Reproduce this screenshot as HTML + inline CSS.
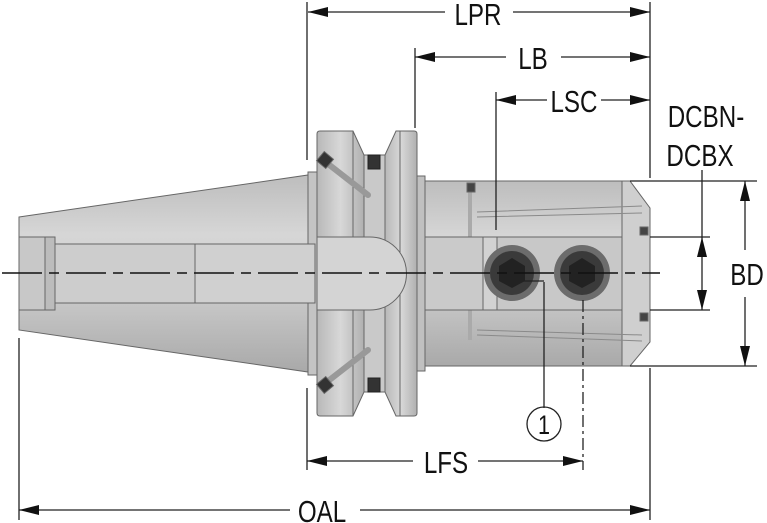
<!DOCTYPE html>
<html><head><meta charset="utf-8"><style>
html,body{margin:0;padding:0;background:#fff}
svg{display:block}
text{font-family:"Liberation Sans",sans-serif;fill:#111}
</style></head><body>
<svg width="767" height="523" viewBox="0 0 767 523" xmlns="http://www.w3.org/2000/svg">
<defs>
<linearGradient id="g" x1="0" y1="0" x2="0" y2="1">
<stop offset="0" stop-color="#bdbdbd"/><stop offset="0.3" stop-color="#d6d6d6"/><stop offset="0.55" stop-color="#cfcfcf"/><stop offset="1" stop-color="#a9a9a9"/>
</linearGradient>
<linearGradient id="gh" x1="0" y1="0" x2="1" y2="0">
<stop offset="0" stop-color="#b8b8b8"/><stop offset="0.5" stop-color="#d8d8d8"/><stop offset="1" stop-color="#b0b0b0"/>
</linearGradient>
<marker id="a" viewBox="0 0 20 10" refX="20" refY="5" markerWidth="20" markerHeight="10" markerUnits="userSpaceOnUse" orient="auto-start-reverse"><path d="M0,0L20,5L0,10Z" fill="#111"/></marker>
</defs>
<g stroke="#666" stroke-width="1">
<!-- taper -->
<path d="M19,217 L308,175 L308,372 L19,330 Z" fill="url(#g)"/>
<rect x="308" y="172" width="10" height="203" fill="#c4c4c4"/>
<rect x="19" y="237" width="30" height="73" fill="#c8c8c8"/>
<rect x="45" y="237" width="10" height="73" fill="#bcbcbc"/>
<rect x="55" y="244" width="140" height="59" fill="#cdcdcd"/>
<rect x="195" y="244" width="120" height="59" fill="#d0d0d0"/>
<!-- flanges -->
<path d="M320,131 L353,131 L364,155 L364,392 L353,416 L320,416 Q317,416 317,413 L317,134 Q317,131 320,131Z" fill="url(#gh)"/>
<rect x="364" y="155" width="21" height="237" fill="#c9c9c9"/>
<rect x="368" y="155" width="12" height="14" fill="#333" stroke="#222"/>
<rect x="368" y="378" width="12" height="14" fill="#333" stroke="#222"/>
<path d="M385,155 L396,131 L414,131 Q417,131 417,134 L417,413 Q417,416 414,416 L396,416 L385,392Z" fill="url(#gh)"/>
<line x1="353" y1="131" x2="353" y2="416"/>
<line x1="400" y1="131" x2="400" y2="416"/>
<path d="M323,160 L368,195" stroke="#999" stroke-width="6" stroke-linecap="round"/>
<path d="M323,385 L368,350" stroke="#999" stroke-width="6" stroke-linecap="round"/>
<rect x="319" y="154" width="12" height="12" fill="#333" transform="rotate(40 325 160)"/>
<rect x="319" y="379" width="12" height="12" fill="#333" transform="rotate(-40 325 385)"/>
<path d="M317,237 L370,237 A36,36 0 0 1 370,310 L317,310Z" fill="#d4d4d4"/>
<!-- body -->
<rect x="417" y="176" width="8" height="195" fill="#c0c0c0"/>
<rect x="425" y="181" width="197" height="185" fill="url(#g)"/>
<path d="M622,181 L630,181 L650,208 L650,342 L630,366 L622,366Z" fill="#cfcfcf"/>
<path d="M477,212 L642,206 M477,217 L642,213 M477,330 L642,335 M477,335 L642,341" stroke="#8a8a8a"/>
<path d="M470,190 L470,250 M470,300 L470,340" stroke="#aaa" stroke-width="4"/>
<rect x="467" y="183" width="8" height="9" fill="#444"/>
<rect x="640" y="227" width="8" height="8" fill="#444"/>
<rect x="640" y="313" width="8" height="8" fill="#444"/>
<rect x="425" y="237" width="58" height="73" fill="#cacaca"/>
<rect x="483" y="237" width="14" height="73" fill="#d2d2d2"/>
<rect x="497" y="237" width="125" height="73" fill="#c8c8c8"/>
</g>
<!-- screws -->
<g>
<circle cx="512" cy="273" r="28" fill="#6c6c6c"/><circle cx="512" cy="273" r="22" fill="#3a3a3a"/>
<polygon points="512,258 525,266 525,281 512,288 499,281 499,266" fill="#222"/>
<circle cx="582" cy="273" r="28" fill="#6c6c6c"/><circle cx="582" cy="273" r="22" fill="#3a3a3a"/>
<polygon points="582,258 595,266 595,281 582,288 569,281 569,266" fill="#222"/>
</g>
<!-- centerline -->
<line x1="2" y1="273" x2="660" y2="273" stroke="#111" stroke-width="1.5" stroke-dasharray="40,7,10,7"/>
<!-- dimension lines -->
<g stroke="#222" stroke-width="1.3" fill="none">
<line x1="307" y1="2" x2="307" y2="160"/><line x1="307" y1="388" x2="307" y2="470"/>
<line x1="650" y1="2" x2="650" y2="178"/><line x1="650" y1="368" x2="650" y2="520"/>
<line x1="415" y1="48" x2="415" y2="128"/>
<line x1="496" y1="92" x2="496" y2="230"/>
<line x1="19" y1="338" x2="19" y2="520"/>
<line x1="583" y1="300" x2="583" y2="470" stroke-dasharray="12,4,3,4"/>
<line x1="544" y1="282" x2="544" y2="408"/>
<line x1="512" y1="281" x2="544" y2="281"/>
<line x1="308" y1="12" x2="445" y2="12" marker-start="url(#a)"/><line x1="513" y1="12" x2="650" y2="12" marker-end="url(#a)"/>
<line x1="415" y1="57" x2="506" y2="57" marker-start="url(#a)"/><line x1="561" y1="57" x2="650" y2="57" marker-end="url(#a)"/>
<line x1="496" y1="100" x2="547" y2="100" marker-start="url(#a)"/><line x1="601" y1="100" x2="650" y2="100" marker-end="url(#a)"/>
<line x1="307" y1="461" x2="413" y2="461" marker-start="url(#a)"/><line x1="478" y1="461" x2="583" y2="461" marker-end="url(#a)"/>
<line x1="360" y1="510" x2="650" y2="510" marker-end="url(#a)"/>
<line x1="19" y1="510" x2="290" y2="510" marker-start="url(#a)"/>
<line x1="630" y1="181" x2="757" y2="181"/><line x1="630" y1="366" x2="757" y2="366"/>
<line x1="650" y1="237" x2="710" y2="237"/><line x1="650" y1="310" x2="710" y2="310"/>
<line x1="702" y1="170" x2="702" y2="237"/>
<line x1="702" y1="237" x2="702" y2="310" marker-start="url(#a)" marker-end="url(#a)"/>
<line x1="745" y1="181" x2="745" y2="250" marker-start="url(#a)"/>
<line x1="745" y1="297" x2="745" y2="366" marker-end="url(#a)"/>
<circle cx="544" cy="424" r="17"/>
</g>
<g font-size="31">
<text x="478" y="25" text-anchor="middle" transform="translate(478 0) scale(0.78 1) translate(-478 0)">LPR</text>
<text x="533" y="69" text-anchor="middle" transform="translate(533 0) scale(0.78 1) translate(-533 0)">LB</text>
<text x="574" y="112" text-anchor="middle" transform="translate(574 0) scale(0.78 1) translate(-574 0)">LSC</text>
<text x="446" y="473" text-anchor="middle" transform="translate(446 0) scale(0.78 1) translate(-446 0)">LFS</text>
<text x="322" y="522" text-anchor="middle" transform="translate(322 0) scale(0.78 1) translate(-322 0)">OAL</text>
<text x="747" y="285" text-anchor="middle" transform="translate(747 0) scale(0.78 1) translate(-747 0)">BD</text>
<text x="706" y="127" text-anchor="middle" transform="translate(706 0) scale(0.78 1) translate(-706 0)">DCBN-</text>
<text x="700" y="166" text-anchor="middle" transform="translate(700 0) scale(0.78 1) translate(-700 0)">DCBX</text>
<text x="544" y="434" font-size="27" text-anchor="middle" transform="translate(544 0) scale(0.8 1) translate(-544 0)">1</text>
</g>
</svg>
</body></html>
